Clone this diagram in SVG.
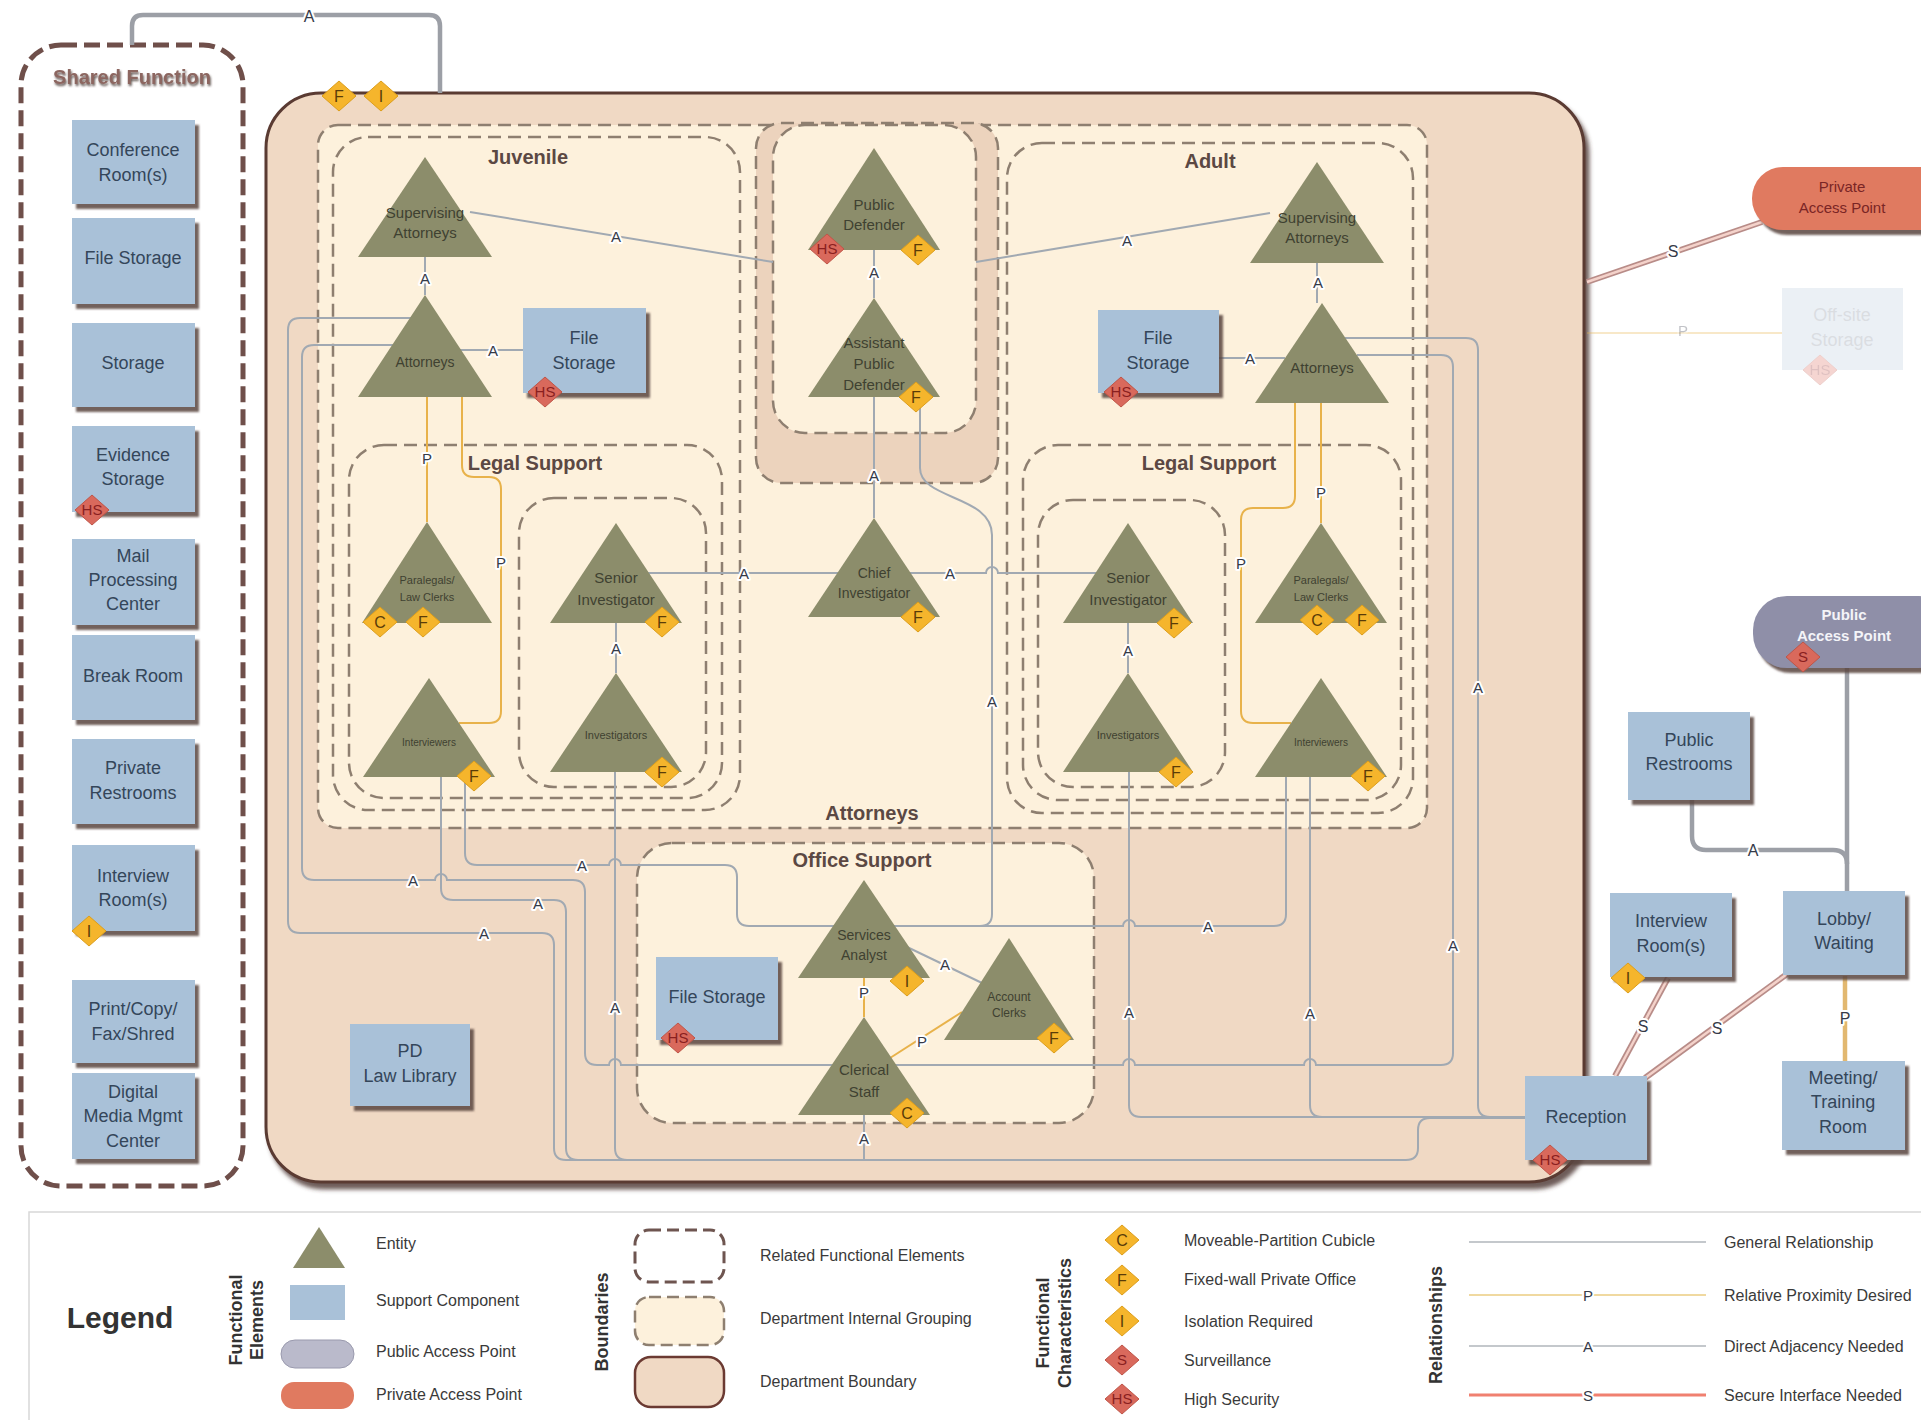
<svg xmlns="http://www.w3.org/2000/svg" xmlns:xlink="http://www.w3.org/1999/xlink" width="1921" height="1420" viewBox="0 0 1921 1420">
<defs>
<style>
.sb{fill:#a9c1d8;filter:url(#bs)}
.bt{font-family:"Liberation Sans",Arial,sans-serif;font-size:18px;fill:#34465a;text-anchor:middle}
.tri{fill:#8c8d6b}
.tt{font-family:"Liberation Sans",Arial,sans-serif;fill:#3f4131;text-anchor:middle}
.dy{fill:#f5b52c;stroke:#dc9e1c;stroke-width:1}
.dr{fill:#d9695c;stroke:#bf5548;stroke-width:1}
.dt{font-family:"Liberation Sans",Arial,sans-serif;font-size:16px;text-anchor:middle;fill:#5a3c08}
.drt{fill:#8a1f1f;font-size:15px}
.grp{fill:none;stroke:#8e7f70;stroke-width:2.5;stroke-dasharray:13 7}
.c{fill:none;stroke:#a1a9b2;stroke-width:2}
.ct{fill:none;stroke:#9c9fa6;stroke-width:4.5}
.cp{fill:none;stroke:#e8b24a;stroke-width:2}
.cs1{fill:none;stroke:#b88c88;stroke-width:6}
.cs2{fill:none;stroke:#f4d2ca;stroke-width:2.5}
.lb{font-family:"Liberation Sans",Arial,sans-serif;font-size:15px;fill:#353a48;text-anchor:middle;dominant-baseline:central;paint-order:stroke;stroke:#fff;stroke-width:4;stroke-linejoin:round}
.gl{font-family:"Liberation Sans",Arial,sans-serif;font-weight:bold;font-size:20px;fill:#5b4843;text-anchor:middle}
.lt{font-family:"Liberation Sans",Arial,sans-serif;font-size:16px;fill:#3a3a3a}
.lh{font-family:"Liberation Sans",Arial,sans-serif;font-weight:bold;font-size:18px;fill:#333;text-anchor:middle}
</style>
<filter id="bs" x="-10%" y="-10%" width="130%" height="130%"><feDropShadow dx="4" dy="5" stdDeviation="1.2" flood-color="#5a4540" flood-opacity="0.85"/></filter>
<filter id="ds" x="-5%" y="-5%" width="110%" height="110%"><feDropShadow dx="4" dy="6" stdDeviation="2" flood-color="#4a3530" flood-opacity="0.8"/></filter>
<filter id="ts" x="-10%" y="-20%" width="130%" height="160%"><feDropShadow dx="1" dy="2" stdDeviation="1" flood-color="#3a2a28" flood-opacity="0.8"/></filter>
<path id="dia" d="M0,-15 L17,0 L0,15 L-17,0Z"/>
</defs>
<rect width="1921" height="1420" fill="#fff"/>

<!-- Shared function boundary -->
<g id="shared-function">
<rect x="21" y="45" width="222" height="1141" rx="40" fill="#fff" stroke="#6f4f4a" stroke-width="5" stroke-dasharray="16 7"/>
<text x="132" y="84" class="gl" style="font-size:20px;fill:#8c6660" filter="url(#ts)">Shared Function</text>
</g>

<!-- Department boundary and groups -->
<g id="department">
<rect x="266" y="93" width="1318" height="1089" rx="55" fill="#f0d9c4" stroke="#5a3a33" stroke-width="3" filter="url(#ds)"/>
<rect x="318" y="125" width="1109" height="703" rx="20" class="grp" style="fill:#fdf1dc"/>
<rect x="756" y="123" width="242" height="360" rx="25" class="grp" style="fill:#ecd3bd"/>
<rect x="773" y="125" width="203" height="308" rx="32" class="grp" style="fill:#fdf1dc"/>
<rect x="333" y="137" width="407" height="673" rx="35" class="grp"/>
<rect x="349" y="445" width="373" height="353" rx="35" class="grp"/>
<rect x="519" y="498" width="187" height="289" rx="35" class="grp"/>
<rect x="1007" y="143" width="406" height="670" rx="35" class="grp"/>
<rect x="1023" y="445" width="378" height="355" rx="35" class="grp"/>
<rect x="1038" y="500" width="187" height="287" rx="35" class="grp"/>
<rect x="637" y="843" width="457" height="280" rx="35" class="grp" style="fill:#fdf1dc"/>
<text x="528" y="164" class="gl">Juvenile</text>
<text x="1210" y="168" class="gl">Adult</text>
<text x="535" y="470" class="gl">Legal Support</text>
<text x="1209" y="470" class="gl">Legal Support</text>
<text x="872" y="820" class="gl">Attorneys</text>
<text x="862" y="867" class="gl">Office Support</text>
<g transform="translate(339,96)"><use href="#dia" class="dy"/><text class="dt" y="6">F</text></g>
<g transform="translate(381,96)"><use href="#dia" class="dy"/><text class="dt" y="6">I</text></g>
</g>

<!-- Connectors -->
<g id="connectors">
<path class="ct" d="M132,45 V26 Q132,15 143,15 H429 Q440,15 440,26 V93"/>
<path class="c" d="M470,212 L773,262"/>
<path class="c" d="M976,262 L1270,213"/>
<path class="c" d="M425,257 V295"/>
<path class="c" d="M874,250 V298"/>
<path class="c" d="M1317,262 V303"/>
<path class="c" d="M458,350 H523"/>
<path class="c" d="M1219,358 H1285"/>
<path class="c" d="M874,397 V518"/>
<path class="c" d="M648,573 H986 a6,6 0 0 1 12,0 H1097"/>
<path class="c" d="M616,623 V673"/>
<path class="c" d="M1128,623 V673"/>
<path class="c" d="M465,777 V853 Q465,865 477,865 H609 a6,6 0 0 1 12,0 H725 Q737,865 737,877 V914 Q737,926 749,926 H1123 a6,6 0 0 1 12,0 H1274 Q1286,926 1286,914 V777"/>
<path class="c" d="M920,397 V468 C920,500 992,495 992,535 V914 Q992,926 980,926"/>
<path class="c" d="M394,345 H314 Q302,345 302,357 V868 Q302,880 314,880 H435 a6,6 0 0 1 12,0 H573 Q585,880 585,892 V1053 Q585,1065 597,1065 H609 a6,6 0 0 1 12,0 H1123 a6,6 0 0 1 12,0 H1304 a6,6 0 0 1 12,0 H1441 Q1453,1065 1453,1053 V367 Q1453,355 1441,355 H1357"/>
<path class="c" d="M412,318 H300 Q288,318 288,330 V921 Q288,933 300,933 H542 Q554,933 554,945 V1148 Q554,1160 566,1160 H1406 Q1418,1160 1418,1148 V1130 Q1418,1118 1430,1118 H1525"/>
<path class="c" d="M441,777 V888 Q441,900 453,900 H554 Q566,900 566,912 V1148 Q566,1160 578,1160"/>
<path class="c" d="M615,772 V1148 Q615,1160 627,1160"/>
<path class="c" d="M864,1115 V1160"/>
<path class="c" d="M1129,772 V1105 Q1129,1117 1141,1117 H1525"/>
<path class="c" d="M1310,777 V1105 Q1310,1117 1322,1117"/>
<path class="c" d="M1345,338 H1466 Q1478,338 1478,350 V1105 Q1478,1117 1490,1117"/>
<path class="c" d="M905,946 L982,983"/>
<path class="cp" d="M427,397 V522"/>
<path class="cp" d="M462,397 V465 Q462,477 474,477 H489 Q501,477 501,489 V711 Q501,723 489,723 H459"/>
<path class="cp" d="M1321,403 V523"/>
<path class="cp" d="M1295,403 V496 Q1295,508 1283,508 H1253 Q1241,508 1241,520 V711 Q1241,723 1253,723 H1291"/>
<path class="cp" d="M864,978 V1017"/>
<path class="cp" d="M890,1058 L962,1012"/>
<path class="cp" d="M1845,976 V1061" style="stroke-width:4.5;stroke:#e2b870"/>
<path class="cp" d="M1587,333 H1782" opacity="0.3"/>
<path class="cs1" d="M1587,282 L1762,222"/><path class="cs2" d="M1587,282 L1762,222"/>
<path class="cs1" d="M1668,978 L1615,1076"/><path class="cs2" d="M1668,978 L1615,1076"/>
<path class="cs1" d="M1787,974 L1645,1078"/><path class="cs2" d="M1787,974 L1645,1078"/>
<path class="ct" d="M1847,668 V891"/>
<path class="ct" d="M1692,800 V836 Q1692,850 1706,850 H1833 Q1847,850 1847,864"/>
<text class="lb" x="309" y="16" style="font-size:16px">A</text>
<text class="lb" x="616" y="236">A</text>
<text class="lb" x="1127" y="240">A</text>
<text class="lb" x="425" y="278">A</text>
<text class="lb" x="874" y="272">A</text>
<text class="lb" x="1318" y="282">A</text>
<text class="lb" x="493" y="350">A</text>
<text class="lb" x="1250" y="358">A</text>
<text class="lb" x="874" y="475">A</text>
<text class="lb" x="744" y="573">A</text>
<text class="lb" x="950" y="573">A</text>
<text class="lb" x="616" y="648">A</text>
<text class="lb" x="1128" y="650">A</text>
<text class="lb" x="582" y="865">A</text>
<text class="lb" x="1208" y="926">A</text>
<text class="lb" x="992" y="701">A</text>
<text class="lb" x="413" y="880">A</text>
<text class="lb" x="1453" y="945">A</text>
<text class="lb" x="484" y="933">A</text>
<text class="lb" x="538" y="903">A</text>
<text class="lb" x="615" y="1007">A</text>
<text class="lb" x="864" y="1138">A</text>
<text class="lb" x="1129" y="1012">A</text>
<text class="lb" x="1310" y="1013">A</text>
<text class="lb" x="1478" y="687">A</text>
<text class="lb" x="945" y="964">A</text>
<text class="lb" x="427" y="458">P</text>
<text class="lb" x="501" y="562">P</text>
<text class="lb" x="1321" y="492">P</text>
<text class="lb" x="1241" y="563">P</text>
<text class="lb" x="864" y="992">P</text>
<text class="lb" x="922" y="1041">P</text>
<text class="lb" x="1845" y="1018" style="font-size:16px">P</text>
<text class="lb" x="1683" y="330" opacity="0.3">P</text>
<text class="lb" x="1673" y="251" style="font-size:16px">S</text>
<text class="lb" x="1643" y="1026" style="font-size:16px">S</text>
<text class="lb" x="1717" y="1028" style="font-size:16px">S</text>
<text class="lb" x="1753" y="850" style="font-size:16px">A</text>
</g>

<!-- Shared function nodes -->
<g id="conference-room"><rect class="sb" x="72" y="120" width="123" height="84"/><text class="bt" x="133" y="156">Conference</text><text class="bt" x="133" y="181">Room(s)</text></g>
<g id="shared-file-storage"><rect class="sb" x="72" y="218" width="123" height="86"/><text class="bt" x="133" y="264">File Storage</text></g>
<g id="storage"><rect class="sb" x="72" y="323" width="123" height="84"/><text class="bt" x="133" y="369">Storage</text></g>
<g id="evidence-storage"><rect class="sb" x="72" y="426" width="123" height="86"/><text class="bt" x="133" y="461">Evidence</text><text class="bt" x="133" y="485">Storage</text><g transform="translate(92,510)"><use href="#dia" class="dr"/><text class="dt drt" y="5">HS</text></g></g>
<g id="mail-processing"><rect class="sb" x="72" y="539" width="123" height="86"/><text class="bt" x="133" y="562">Mail</text><text class="bt" x="133" y="586">Processing</text><text class="bt" x="133" y="610">Center</text></g>
<g id="break-room"><rect class="sb" x="72" y="635" width="123" height="85"/><text class="bt" x="133" y="682">Break Room</text></g>
<g id="private-restrooms"><rect class="sb" x="72" y="739" width="123" height="85"/><text class="bt" x="133" y="774">Private</text><text class="bt" x="133" y="799">Restrooms</text></g>
<g id="shared-interview-rooms"><rect class="sb" x="72" y="845" width="123" height="86"/><text class="bt" x="133" y="882">Interview</text><text class="bt" x="133" y="906">Room(s)</text><g transform="translate(89,931)"><use href="#dia" class="dy"/><text class="dt" y="6">I</text></g></g>
<g id="print-copy"><rect class="sb" x="72" y="980" width="123" height="83"/><text class="bt" x="133" y="1015">Print/Copy/</text><text class="bt" x="133" y="1040">Fax/Shred</text></g>
<g id="digital-media"><rect class="sb" x="72" y="1073" width="123" height="86"/><text class="bt" x="133" y="1098">Digital</text><text class="bt" x="133" y="1122">Media Mgmt</text><text class="bt" x="133" y="1147">Center</text></g>

<!-- Department nodes -->
<g id="juv-supervising"><polygon class="tri" points="425,157 492,257 358,257"/><text class="tt" x="425" y="218" font-size="15">Supervising</text><text class="tt" x="425" y="238" font-size="15">Attorneys</text></g>
<g id="juv-attorneys"><polygon class="tri" points="425,295 492,397 358,397"/><text class="tt" x="425" y="367" font-size="14">Attorneys</text></g>
<g id="juv-file-storage"><rect class="sb" x="523" y="308" width="123" height="85"/><text class="bt" x="584" y="344">File</text><text class="bt" x="584" y="369">Storage</text><g transform="translate(545,392)"><use href="#dia" class="dr"/><text class="dt drt" y="5">HS</text></g></g>
<g id="public-defender"><polygon class="tri" points="874,148 940,250 808,250"/><text class="tt" x="874" y="210" font-size="15">Public</text><text class="tt" x="874" y="230" font-size="15">Defender</text><g transform="translate(827,249)"><use href="#dia" class="dr"/><text class="dt drt" y="5">HS</text></g><g transform="translate(918,250)"><use href="#dia" class="dy"/><text class="dt" y="6">F</text></g></g>
<g id="assistant-pd"><polygon class="tri" points="874,298 940,397 808,397"/><text class="tt" x="874" y="348" font-size="15">Assistant</text><text class="tt" x="874" y="369" font-size="15">Public</text><text class="tt" x="874" y="390" font-size="15">Defender</text><g transform="translate(916,397)"><use href="#dia" class="dy"/><text class="dt" y="6">F</text></g></g>
<g id="adult-supervising"><polygon class="tri" points="1317,162 1384,263 1250,263"/><text class="tt" x="1317" y="223" font-size="15">Supervising</text><text class="tt" x="1317" y="243" font-size="15">Attorneys</text></g>
<g id="adult-attorneys"><polygon class="tri" points="1322,303 1389,403 1255,403"/><text class="tt" x="1322" y="373" font-size="15">Attorneys</text></g>
<g id="adult-file-storage"><rect class="sb" x="1098" y="310" width="121" height="83"/><text class="bt" x="1158" y="344">File</text><text class="bt" x="1158" y="369">Storage</text><g transform="translate(1121,392)"><use href="#dia" class="dr"/><text class="dt drt" y="5">HS</text></g></g>
<g id="juv-paralegals"><polygon class="tri" points="427,522 492,623 362,623"/><text class="tt" x="427" y="584" font-size="11">Paralegals/</text><text class="tt" x="427" y="601" font-size="11">Law Clerks</text><g transform="translate(380,622)"><use href="#dia" class="dy"/><text class="dt" y="6">C</text></g><g transform="translate(423,622)"><use href="#dia" class="dy"/><text class="dt" y="6">F</text></g></g>
<g id="juv-senior-investigator"><polygon class="tri" points="616,523 682,623 550,623"/><text class="tt" x="616" y="583" font-size="15">Senior</text><text class="tt" x="616" y="605" font-size="15">Investigator</text><g transform="translate(662,622)"><use href="#dia" class="dy"/><text class="dt" y="6">F</text></g></g>
<g id="juv-interviewers"><polygon class="tri" points="429,678 495,777 363,777"/><text class="tt" x="429" y="746" font-size="10">Interviewers</text><g transform="translate(474,776)"><use href="#dia" class="dy"/><text class="dt" y="6">F</text></g></g>
<g id="juv-investigators"><polygon class="tri" points="616,673 682,772 550,772"/><text class="tt" x="616" y="739" font-size="11">Investigators</text><g transform="translate(662,772)"><use href="#dia" class="dy"/><text class="dt" y="6">F</text></g></g>
<g id="chief-investigator"><polygon class="tri" points="874,518 940,617 808,617"/><text class="tt" x="874" y="578" font-size="14">Chief</text><text class="tt" x="874" y="598" font-size="14">Investigator</text><g transform="translate(918,617)"><use href="#dia" class="dy"/><text class="dt" y="6">F</text></g></g>
<g id="adult-senior-investigator"><polygon class="tri" points="1128,523 1193,623 1063,623"/><text class="tt" x="1128" y="583" font-size="15">Senior</text><text class="tt" x="1128" y="605" font-size="15">Investigator</text><g transform="translate(1174,623)"><use href="#dia" class="dy"/><text class="dt" y="6">F</text></g></g>
<g id="adult-investigators"><polygon class="tri" points="1128,673 1193,772 1063,772"/><text class="tt" x="1128" y="739" font-size="11">Investigators</text><g transform="translate(1176,772)"><use href="#dia" class="dy"/><text class="dt" y="6">F</text></g></g>
<g id="adult-paralegals"><polygon class="tri" points="1321,523 1387,623 1255,623"/><text class="tt" x="1321" y="584" font-size="11">Paralegals/</text><text class="tt" x="1321" y="601" font-size="11">Law Clerks</text><g transform="translate(1317,620)"><use href="#dia" class="dy"/><text class="dt" y="6">C</text></g><g transform="translate(1362,620)"><use href="#dia" class="dy"/><text class="dt" y="6">F</text></g></g>
<g id="adult-interviewers"><polygon class="tri" points="1321,678 1387,777 1255,777"/><text class="tt" x="1321" y="746" font-size="10">Interviewers</text><g transform="translate(1368,776)"><use href="#dia" class="dy"/><text class="dt" y="6">F</text></g></g>
<g id="services-analyst"><polygon class="tri" points="864,880 930,978 798,978"/><text class="tt" x="864" y="940" font-size="14">Services</text><text class="tt" x="864" y="960" font-size="14">Analyst</text><g transform="translate(907,981)"><use href="#dia" class="dy"/><text class="dt" y="6">I</text></g></g>
<g id="clerical-staff"><polygon class="tri" points="864,1017 930,1115 798,1115"/><text class="tt" x="864" y="1075" font-size="15">Clerical</text><text class="tt" x="864" y="1097" font-size="15">Staff</text><g transform="translate(907,1113)"><use href="#dia" class="dy"/><text class="dt" y="6">C</text></g></g>
<g id="account-clerks"><polygon class="tri" points="1009,938 1074,1040 944,1040"/><text class="tt" x="1009" y="1001" font-size="12">Account</text><text class="tt" x="1009" y="1017" font-size="12">Clerks</text><g transform="translate(1054,1038)"><use href="#dia" class="dy"/><text class="dt" y="6">F</text></g></g>
<g id="office-file-storage"><rect class="sb" x="656" y="957" width="122" height="83"/><text class="bt" x="717" y="1003">File Storage</text><g transform="translate(678,1038)"><use href="#dia" class="dr"/><text class="dt drt" y="5">HS</text></g></g>
<g id="pd-law-library"><rect class="sb" x="350" y="1024" width="120" height="82"/><text class="bt" x="410" y="1057">PD</text><text class="bt" x="410" y="1082">Law Library</text></g>

<!-- Outside nodes -->
<g id="private-access-point"><rect x="1752" y="167" width="200" height="63" rx="31" fill="#e07a60" filter="url(#bs)"/><text class="tt" x="1842" y="192" font-size="15" style="fill:#7a2525">Private</text><text class="tt" x="1842" y="213" font-size="15" style="fill:#7a2525">Access Point</text></g>
<g id="offsite-storage" opacity="0.28"><rect x="1782" y="288" width="121" height="82" fill="#b8c8dc"/><text class="bt" x="1842" y="321" style="fill:#7a8594">Off-site</text><text class="bt" x="1842" y="346" style="fill:#7a8594">Storage</text><g transform="translate(1820,370)"><use href="#dia" class="dr"/><text class="dt drt" y="5">HS</text></g></g>
<g id="public-access-point"><rect x="1753" y="596" width="200" height="72" rx="34" fill="#8f8fa8" filter="url(#bs)"/><text class="tt" x="1844" y="620" font-size="15" font-weight="bold" style="fill:#f4f4f8">Public</text><text class="tt" x="1844" y="641" font-size="15" font-weight="bold" style="fill:#f4f4f8">Access Point</text><g transform="translate(1803,657)"><use href="#dia" class="dr"/><text class="dt drt" y="5">S</text></g></g>
<g id="public-restrooms"><rect class="sb" x="1628" y="712" width="122" height="88"/><text class="bt" x="1689" y="746">Public</text><text class="bt" x="1689" y="770">Restrooms</text></g>
<g id="interview-rooms"><rect class="sb" x="1610" y="893" width="122" height="84"/><text class="bt" x="1671" y="927">Interview</text><text class="bt" x="1671" y="952">Room(s)</text><g transform="translate(1628,978)"><use href="#dia" class="dy"/><text class="dt" y="6">I</text></g></g>
<g id="lobby-waiting"><rect class="sb" x="1783" y="891" width="122" height="84"/><text class="bt" x="1844" y="925">Lobby/</text><text class="bt" x="1844" y="949">Waiting</text></g>
<g id="meeting-training"><rect class="sb" x="1782" y="1061" width="123" height="89"/><text class="bt" x="1843" y="1084">Meeting/</text><text class="bt" x="1843" y="1108">Training</text><text class="bt" x="1843" y="1133">Room</text></g>
<g id="reception"><rect class="sb" x="1525" y="1076" width="122" height="84"/><text class="bt" x="1586" y="1123">Reception</text><g transform="translate(1550,1160)"><use href="#dia" class="dr"/><text class="dt drt" y="5">HS</text></g></g>

<!-- Legend -->
<g id="legend">
<rect x="29" y="1212" width="1900" height="215" fill="#fff" stroke="#d8d8d8" stroke-width="1.5"/>
<text x="120" y="1328" class="lh" style="font-size:30px">Legend</text>
<text class="lh" transform="translate(242,1320) rotate(-90)">Functional</text>
<text class="lh" transform="translate(263,1320) rotate(-90)">Elements</text>
<polygon class="tri" points="319,1227 345,1268 293,1268"/>
<rect x="290" y="1285" width="55" height="35" fill="#a9c1d8"/>
<rect x="281" y="1340" width="73" height="28" rx="14" fill="#babacb" stroke="#9a9aae"/>
<rect x="281" y="1382" width="73" height="27" rx="13" fill="#e07a60"/>
<text class="lt" x="376" y="1249">Entity</text>
<text class="lt" x="376" y="1306">Support Component</text>
<text class="lt" x="376" y="1357">Public Access Point</text>
<text class="lt" x="376" y="1400">Private Access Point</text>
<text class="lh" transform="translate(608,1322) rotate(-90)">Boundaries</text>
<rect x="635" y="1230" width="89" height="52" rx="14" fill="#fff" stroke="#6e5550" stroke-width="3" stroke-dasharray="12 6"/>
<rect x="635" y="1297" width="89" height="48" rx="14" fill="#fdf1dc" stroke="#8e7f70" stroke-width="2.5" stroke-dasharray="12 6"/>
<rect x="635" y="1357" width="89" height="50" rx="16" fill="#f0d9c4" stroke="#6b3a32" stroke-width="2.5"/>
<text class="lt" x="760" y="1261">Related Functional Elements</text>
<text class="lt" x="760" y="1324">Department Internal Grouping</text>
<text class="lt" x="760" y="1387">Department Boundary</text>
<text class="lh" transform="translate(1049,1323) rotate(-90)">Functional</text>
<text class="lh" transform="translate(1071,1323) rotate(-90)">Characteristics</text>
<g transform="translate(1122,1240)"><use href="#dia" class="dy"/><text class="dt" y="6">C</text></g>
<g transform="translate(1122,1280)"><use href="#dia" class="dy"/><text class="dt" y="6">F</text></g>
<g transform="translate(1122,1321)"><use href="#dia" class="dy"/><text class="dt" y="6">I</text></g>
<g transform="translate(1122,1360)"><use href="#dia" class="dr"/><text class="dt drt" y="5">S</text></g>
<g transform="translate(1122,1399)"><use href="#dia" class="dr"/><text class="dt drt" y="5">HS</text></g>
<text class="lt" x="1184" y="1246">Moveable-Partition Cubicle</text>
<text class="lt" x="1184" y="1285">Fixed-wall Private Office</text>
<text class="lt" x="1184" y="1327">Isolation Required</text>
<text class="lt" x="1184" y="1366">Surveillance</text>
<text class="lt" x="1184" y="1405">High Security</text>
<text class="lh" transform="translate(1442,1325) rotate(-90)">Relationships</text>
<path d="M1469,1242 H1706" stroke="#c4c8cc" stroke-width="2"/>
<path d="M1469,1295 H1706" stroke="#f0d9a0" stroke-width="2"/>
<path d="M1469,1346 H1706" stroke="#c4c8cc" stroke-width="2"/>
<path d="M1469,1395 H1706" stroke="#f08070" stroke-width="3"/>
<text class="lb" x="1588" y="1295">P</text>
<text class="lb" x="1588" y="1346">A</text>
<text class="lb" x="1588" y="1395">S</text>
<text class="lt" x="1724" y="1248">General Relationship</text>
<text class="lt" x="1724" y="1301">Relative Proximity Desired</text>
<text class="lt" x="1724" y="1352">Direct Adjacency Needed</text>
<text class="lt" x="1724" y="1401">Secure Interface Needed</text>
</g>
</svg>
